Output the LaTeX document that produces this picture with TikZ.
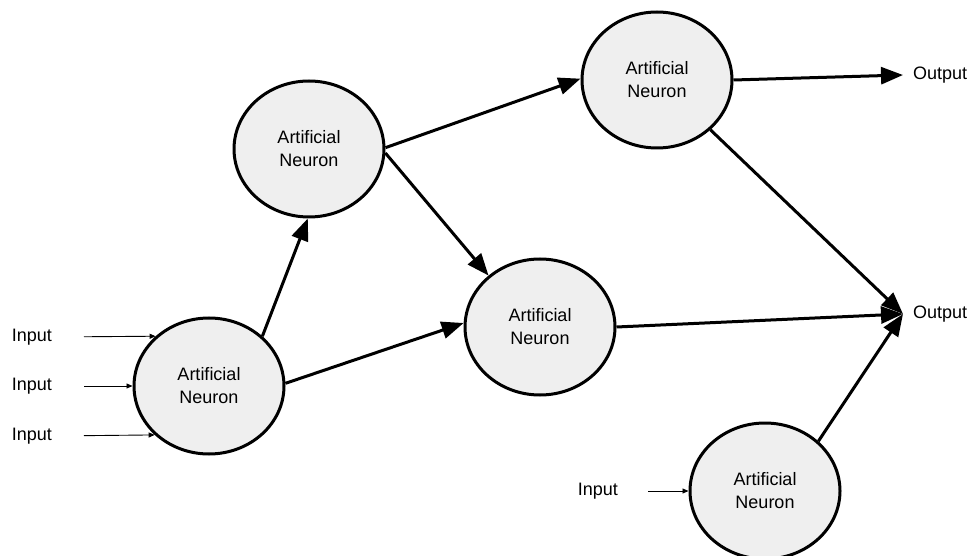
\documentclass[tikz,border=0pt]{standalone}
\usepackage{fontspec}
\setmainfont{Liberation Sans}
\usetikzlibrary{arrows.meta,shapes.geometric}
\definecolor{neurfill}{RGB}{239,239,239}
\tikzset{
  neuron/.style={ellipse, draw=black, line width=3pt, fill=neurfill,
    minimum width=150pt, minimum height=136pt, inner sep=0pt,
    align=center, font=\fontsize{18pt}{23pt}\selectfont},
  lbl/.style={inner sep=0pt, font=\fontsize{18pt}{23pt}\selectfont},
  bigarrow/.style={line width=3pt, -{Triangle[length=22pt,width=17pt]}},
  thinarrow/.style={line width=0.9pt, -{Triangle[length=6pt,width=5pt]}}
}
\begin{document}
\begin{tikzpicture}[x=1pt,y=-1pt]
\useasboundingbox (0,0) rectangle (975,556);
\node[neuron] (N1) at (209,386) {Artificial\\Neuron};
\node[neuron] (N2) at (309,149) {Artificial\\Neuron};
\node[neuron] (N3) at (657,80) {Artificial\\Neuron};
\node[neuron] (N4) at (540,327) {Artificial\\Neuron};
\node[neuron] (N5) at (765,491) {Artificial\\Neuron};

\node[lbl, anchor=west, inner xsep=10pt] (O1) at (903,75) {Output};
\node[lbl, anchor=west, inner xsep=10pt] (O2) at (903,314) {Output};

\node[lbl, anchor=east] (I1) at (52,337) {Input};
\node[lbl, anchor=east] (I2) at (52,386) {Input};
\node[lbl, anchor=east] (I3) at (52,436) {Input};
\node[lbl, anchor=east] (I4) at (618,491) {Input};

\draw[thinarrow, shorten <=32pt] (I1.east) -- (N1.137);
\draw[thinarrow, shorten <=32pt] (I2.east) -- (N1.180);
\draw[thinarrow, shorten <=32pt] (I3.east) -- (N1.222);
\draw[thinarrow, shorten <=30pt] (I4.east) -- (N5.180);

\draw[bigarrow] (N1.43) -- (N2.269);
\draw[bigarrow] (N1.2) -- (N4.177);
\draw[bigarrow] (N2.1) -- (N3.179);
\draw[bigarrow] (N2.-3) -- (N4.135);
\draw[bigarrow] (N3.0) -- (O1.west);
\draw[bigarrow] (N3.-43) -- (O2.west);
\draw[bigarrow] (N4.0) -- (O2.west);
\draw[bigarrow] (N5.43) -- (O2.west);
\end{tikzpicture}
\end{document}
